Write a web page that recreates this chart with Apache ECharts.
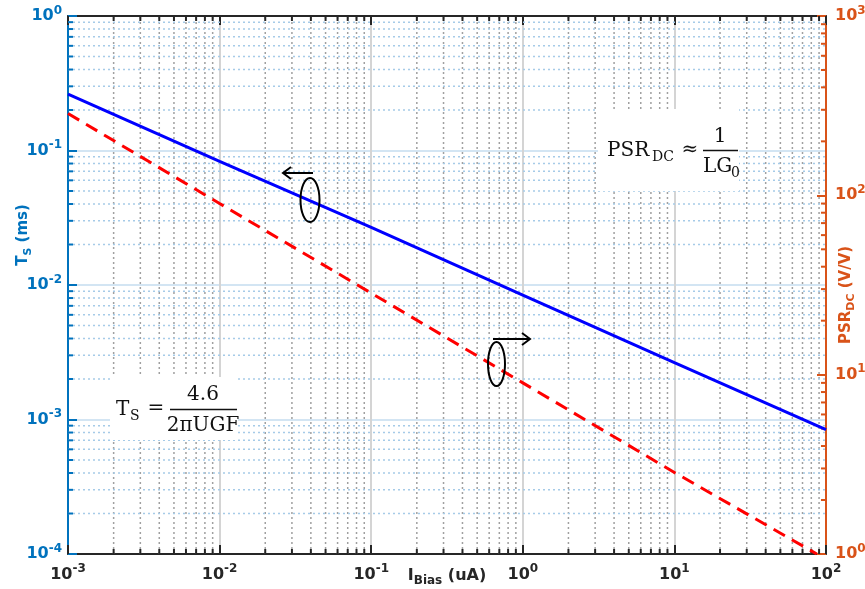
<!DOCTYPE html>
<html>
<head>
<meta charset="utf-8">
<script src="https://cdn.jsdelivr.net/npm/echarts@6/dist/echarts.min.js"></script>
<style>html,body{margin:0;padding:0;background:#fff}#c{width:865px;height:589px}</style>
</head>
<body>
<div id="c"></div>
<script>
// ---- data ----
const iBias = [0.001, 0.01, 0.1, 1, 10, 100];           // uA
const tsMs  = [0.263, 0.083, 0.0268, 0.0084, 0.00265, 0.00084];
const psrBias = [0.001, 0.01, 0.1, 1, 10, 87];
const psrVV   = [286, 90, 28.5, 9.0, 2.85, 1.0];
const xRange = [1e-3, 1e2];
const yLeftRange = [1e-4, 1];
const yRightRange = [1, 1e3];

const BLUE = '#0072BD', ORANGE = '#D95319', DARK = '#262626';

function minorVals(lo, hi) {
  const out = [];
  for (let e = Math.round(Math.log10(lo)); e < Math.round(Math.log10(hi)); e++) {
    for (let k = 2; k <= 9; k++) out.push(k * Math.pow(10, e));
  }
  return out;
}
const xMinor = minorVals(xRange[0], xRange[1]);
const yLMinor = minorVals(yLeftRange[0], yLeftRange[1]);
const yRMinor = minorVals(yRightRange[0], yRightRange[1]);

function powLabel(v) {
  const e = Math.round(Math.log10(v));
  return '{b|10}{s|' + e + '}';
}
function richFor(color) {
  return {
    b: {fontSize: 16, fontWeight: 'bold', fontFamily: 'DejaVu Sans', color: color},
    s: {fontSize: 12, fontWeight: 'bold', fontFamily: 'DejaVu Sans', color: color, padding: [0, 0, 11, 0]}
  };
}
// serif text helper: (x, baseline) -> top-aligned text
function mtext(str, x, baseline, size, align) {
  return {type: 'text', x: x, y: baseline - 0.85 * size, z: 7,
    style: {text: str, font: size + 'px "DejaVu Serif"', fill: '#111', align: align || 'left', verticalAlign: 'top'}};
}

const chart = echarts.init(document.getElementById('c'), null, {renderer: 'canvas'});

const option = {
  backgroundColor: '#fff',
  animation: false,
  grid: {left: 68, right: 39, top: 16, bottom: 35, containLabel: false, outerBoundsMode: 'none'},
  xAxis: [{
    type: 'log', logBase: 10, min: xRange[0], max: xRange[1], splitNumber: 5,
    position: 'bottom',
    axisLine: {show: true, lineStyle: {color: DARK, width: 2}},
    axisTick: {show: true, inside: true, length: 9, lineStyle: {color: DARK, width: 2}},
    axisLabel: {formatter: powLabel, rich: richFor(DARK), margin: 9},
    splitLine: {show: true, lineStyle: {color: '#d4d4d4', width: 2}},
    name: '{n|I}{sub|Bias}{n| (uA)}',
    nameLocation: 'middle', nameGap: 10, nameMoveOverlap: false,
    nameTextStyle: {
      rich: {
        n: {fontSize: 16, fontWeight: 'bold', fontFamily: 'DejaVu Sans', color: DARK},
        sub: {fontSize: 12, fontWeight: 'bold', fontFamily: 'DejaVu Sans', color: DARK, padding: [11, 0, 0, 0]}
      }
    }
  }, {
    type: 'log', logBase: 10, min: xRange[0], max: xRange[1], splitNumber: 5,
    position: 'top',
    axisLine: {show: true, lineStyle: {color: DARK, width: 2}},
    axisTick: {show: true, inside: true, length: 9, lineStyle: {color: DARK, width: 2}},
    axisLabel: {show: false},
    splitLine: {show: false}
  }],
  yAxis: [{
    type: 'log', logBase: 10, min: yLeftRange[0], max: yLeftRange[1], splitNumber: 4,
    position: 'left',
    axisLine: {show: true, lineStyle: {color: BLUE, width: 2}},
    axisTick: {show: true, inside: true, length: 9, lineStyle: {color: BLUE, width: 2}},
    axisLabel: {formatter: powLabel, rich: richFor(BLUE), margin: 6},
    splitLine: {show: true, lineStyle: {color: '#d3e5f3', width: 2}}
  }, {
    type: 'log', logBase: 10, min: yRightRange[0], max: yRightRange[1], splitNumber: 3,
    position: 'right',
    axisLine: {show: true, lineStyle: {color: ORANGE, width: 2}},
    axisTick: {show: true, inside: true, length: 9, lineStyle: {color: ORANGE, width: 2}},
    axisLabel: {formatter: powLabel, rich: richFor(ORANGE), margin: 9},
    splitLine: {show: false}
  }],
  series: [
    {
      type: 'custom', name: 'xminor', xAxisIndex: 0, yAxisIndex: 0, z: 1, silent: true,
      data: xMinor.map(v => [v, 0.01]),
      encode: {x: 0, y: 1},
      renderItem: function (params, api) {
        const v = api.value(0);
        const pB = api.coord([v, yLeftRange[0]]);
        const pT = api.coord([v, yLeftRange[1]]);
        return {type: 'group', children: [
          {type: 'line', shape: {x1: pB[0], y1: pB[1], x2: pT[0], y2: pT[1]}, style: {stroke: '#a0a0a0', lineWidth: 1.5, lineDash: [2, 3]}},
          {type: 'line', shape: {x1: pB[0], y1: pB[1], x2: pB[0], y2: pB[1] - 5}, style: {stroke: DARK, lineWidth: 2}},
          {type: 'line', shape: {x1: pT[0], y1: pT[1], x2: pT[0], y2: pT[1] + 5}, style: {stroke: DARK, lineWidth: 2}}
        ]};
      }
    },
    {
      type: 'custom', name: 'ylminor', xAxisIndex: 0, yAxisIndex: 0, z: 1, silent: true,
      data: yLMinor.map(v => [0.01, v]),
      encode: {x: 0, y: 1},
      renderItem: function (params, api) {
        const v = api.value(1);
        const pL = api.coord([xRange[0], v]);
        const pR = api.coord([xRange[1], v]);
        return {type: 'group', children: [
          {type: 'line', shape: {x1: pL[0], y1: pL[1], x2: pR[0], y2: pR[1]}, style: {stroke: '#a6cbe8', lineWidth: 1.5, lineDash: [2, 3]}},
          {type: 'line', shape: {x1: pL[0], y1: pL[1], x2: pL[0] + 5, y2: pL[1]}, style: {stroke: BLUE, lineWidth: 2}}
        ]};
      }
    },
    {
      type: 'custom', name: 'yrminor', xAxisIndex: 0, yAxisIndex: 1, z: 1, silent: true,
      data: yRMinor.map(v => [0.01, v]),
      encode: {x: 0, y: 1},
      renderItem: function (params, api) {
        const v = api.value(1);
        const pR = api.coord([xRange[1], v]);
        return {type: 'line', shape: {x1: pR[0], y1: pR[1], x2: pR[0] - 5, y2: pR[1]}, style: {stroke: ORANGE, lineWidth: 2}};
      }
    },
    {
      type: 'line', name: 'Ts', xAxisIndex: 0, yAxisIndex: 0, z: 5,
      data: iBias.map((x, i) => [x, tsMs[i]]),
      symbol: 'none', lineStyle: {color: '#0000FF', width: 3}
    },
    {
      type: 'line', name: 'PSR', xAxisIndex: 0, yAxisIndex: 1, z: 5,
      data: psrBias.map((x, i) => [x, psrVV[i]]),
      symbol: 'none', lineStyle: {color: '#FF0000', width: 3, type: [13, 8]}
    }
  ],
  graphic: [
    // left axis name
    {type: 'text', x: 23, y: 235, rotation: Math.PI / 2, z: 10,
     style: {text: '{n|T}{sub|S}{n| (ms)}', align: 'center', verticalAlign: 'middle',
       rich: {n: {fontSize: 15, fontWeight: 'bold', fontFamily: 'DejaVu Sans', fill: BLUE},
              sub: {fontSize: 11, fontWeight: 'bold', fontFamily: 'DejaVu Sans', fill: BLUE, padding: [10, 0, 0, 0]}}}},
    // right axis name
    {type: 'text', x: 846, y: 295, rotation: Math.PI / 2, z: 10,
     style: {text: '{n|PSR}{sub|DC}{n| (V/V)}', align: 'center', verticalAlign: 'middle',
       rich: {n: {fontSize: 15, fontWeight: 'bold', fontFamily: 'DejaVu Sans', fill: ORANGE},
              sub: {fontSize: 11, fontWeight: 'bold', fontFamily: 'DejaVu Sans', fill: ORANGE, padding: [10, 0, 0, 0]}}}},
    // PSR formula box
    {type: 'rect', shape: {x: 598, y: 109, width: 141, height: 82}, style: {fill: '#fff'}, z: 6},
    mtext('PSR', 607, 158, 20),
    mtext('DC', 652, 162, 14),
    mtext('≈', 690, 157, 20, 'center'),
    mtext('1', 720, 144, 20, 'center'),
    {type: 'line', shape: {x1: 703, y1: 150.5, x2: 738, y2: 150.5}, style: {stroke: '#111', lineWidth: 1.5}, z: 7},
    mtext('LG', 703, 174, 20),
    mtext('0', 731, 178, 14),
    // Ts formula box
    {type: 'rect', shape: {x: 110, y: 377, width: 128, height: 63}, style: {fill: '#fff'}, z: 6},
    mtext('T', 116, 417, 20),
    mtext('S', 130, 421, 14),
    mtext('=', 156, 416, 20, 'center'),
    mtext('4.6', 203, 402, 20, 'center'),
    {type: 'line', shape: {x1: 170, y1: 409.5, x2: 237, y2: 409.5}, style: {stroke: '#111', lineWidth: 1.5}, z: 7},
    mtext('2πUGF', 203, 433, 20, 'center'),
    // left-pointing arrow + ellipse (Ts curve -> left axis)
    {type: 'ellipse', shape: {cx: 310, cy: 200, rx: 9.5, ry: 22}, style: {fill: 'none', stroke: '#000', lineWidth: 2}, z: 8},
    {type: 'line', shape: {x1: 284, y1: 173, x2: 313, y2: 173}, style: {stroke: '#000', lineWidth: 2}, z: 8},
    {type: 'polyline', shape: {points: [[291, 167], [283, 173], [291, 179]]}, style: {stroke: '#000', lineWidth: 2, fill: 'none'}, z: 8},
    // right-pointing arrow + ellipse (PSR curve -> right axis)
    {type: 'ellipse', shape: {cx: 496.5, cy: 364, rx: 8.5, ry: 22}, style: {fill: 'none', stroke: '#000', lineWidth: 2}, z: 8},
    {type: 'line', shape: {x1: 493, y1: 339, x2: 530, y2: 339}, style: {stroke: '#000', lineWidth: 2}, z: 8},
    {type: 'polyline', shape: {points: [[522, 333], [530, 339], [522, 345]]}, style: {stroke: '#000', lineWidth: 2, fill: 'none'}, z: 8}
  ]
};
chart.setOption(option);
</script>
</body>
</html>
